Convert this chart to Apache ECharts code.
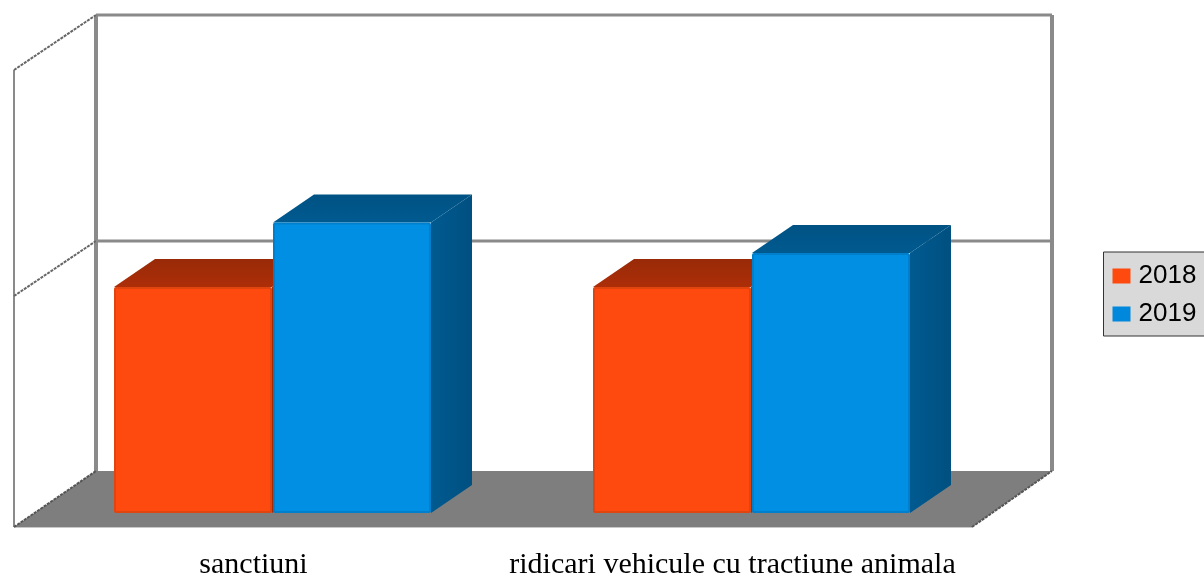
<!DOCTYPE html>
<html>
<head>
<meta charset="utf-8">
<style>html,body{margin:0;padding:0;background:#fff;overflow:hidden}#c{width:1204px;height:575px}</style>
<script src="https://cdn.jsdelivr.net/npm/echarts@6/dist/echarts.min.js"></script>
</head>
<body>
<div id="c"></div>
<script>
const categories = ['sanctiuni', 'ridicari vehicule cu tractiune animala'];
const values2018 = [7, 7];
const values2019 = [9, 8.05];
const yTicks = [0, 7, 14];

const wallDX = 82, wallDXRight = 80, wallDY = 55, floorDY = 56, floorThick = 5;
const barDX = 41, barDY = 28, floorLift = 9;
const barInset = 99, barW = 159;

const chart = echarts.init(document.getElementById('c'), null, {renderer: 'canvas'});

function renderWalls(params, api) {
  const cs = params.coordSys;
  const L = cs.x, R = cs.x + cs.width;
  const y0 = api.coord([0, yTicks[0]])[1];
  const yF = y0 + floorThick;
  const yT = api.coord([0, yTicks[yTicks.length - 1]])[1];
  const grey = '#8a8a8a';
  const ls = (x1, y1, x2, y2, w, dash) => ({
    type: 'line', shape: {x1, y1, x2, y2},
    style: {stroke: grey, lineWidth: w, lineDash: dash || null}
  });
  const kids = [];
  kids.push({type: 'polygon', shape: {points: [[L, yF], [L + wallDX, yF - floorDY], [R + wallDXRight, yF - floorDY], [R, yF]]},
    style: {fill: '#7e7e7e'}});
  kids.push(ls(L + wallDX, yT - wallDY, R + wallDXRight, yT - wallDY, 3));
  kids.push(ls(L + wallDX, yT - wallDY, L + wallDX, yF - floorDY, 4));
  kids.push(ls(R + wallDXRight, yT - wallDY, R + wallDXRight, yF - floorDY, 4));
  kids.push(ls(L, yT, L, yF, 2));
  kids.push({type: 'line', shape: {x1: L, y1: yF + 0.5, x2: R, y2: yF + 0.5}, style: {stroke: '#c8c8c8', lineWidth: 1}});
  yTicks.forEach(t => {
    if (t === yTicks[0]) return;
    const y = api.coord([0, t])[1];
    kids.push({type: 'line', shape: {x1: L, y1: y, x2: L + wallDX, y2: y - wallDY},
      style: {stroke: '#666', lineWidth: 2, lineDash: [3, 1]}});
    if (t !== yTicks[yTicks.length - 1]) {
      kids.push(ls(L + wallDX, y - wallDY, R + wallDXRight, y - wallDY, 3));
    }
  });
  kids.push({type: 'line', shape: {x1: L, y1: yF, x2: L + wallDX, y2: yF - floorDY},
    style: {stroke: '#555', lineWidth: 2, lineDash: [3, 1]}});
  kids.push({type: 'line', shape: {x1: R, y1: yF, x2: R + wallDXRight, y2: yF - floorDY},
    style: {stroke: '#555', lineWidth: 2, lineDash: [3, 1]}});
  return {type: 'group', children: kids};
}

function barRenderer(slot, front, edge, topA, topB, sideA, sideB) {
  return function (params, api) {
    const band = api.size([1, 0])[0];
    const c = api.coord([api.value(0), api.value(1)]);
    const b = api.coord([api.value(0), 0]);
    const x = c[0] - band / 2 + barInset + slot * barW;
    const top = c[1] - floorLift, bot = b[1] - floorLift;
    const w = barW;
    return {type: 'group', children: [
      {type: 'polygon', shape: {points: [[x + w, top], [x + w + barDX, top - barDY], [x + w + barDX, bot - barDY], [x + w, bot]]},
        style: {fill: new echarts.graphic.LinearGradient(0, 0, 1, 0, [{offset: 0, color: sideA}, {offset: 1, color: sideB}])}},
      {type: 'polygon', shape: {points: [[x + 1, top], [x + 1 + barDX, top - barDY], [x + w + barDX, top - barDY], [x + w, top]]},
        style: {fill: new echarts.graphic.LinearGradient(0, 0, 0, 1, [{offset: 0, color: topA}, {offset: 1, color: topB}])}},
      {type: 'rect', shape: {x: x + 1, y: top, width: w - 1, height: bot - top, r: 2},
        style: {fill: edge}},
      {type: 'rect', shape: {x: x + 3, y: top + 2, width: w - 5, height: bot - top - 4, r: 1},
        style: {fill: front}}
    ]};
  };
}

chart.setOption({
  animation: false,
  backgroundColor: '#fff',
  grid: {left: 14, top: 70, width: 958, height: 452, outerBoundsMode: 'none'},
  xAxis: {
    type: 'category', data: categories,
    axisLine: {show: false}, axisTick: {show: false}, splitLine: {show: false},
    axisLabel: {fontFamily: 'Liberation Serif', fontSize: 30, color: '#000', margin: 28, interval: 0}
  },
  yAxis: {type: 'value', min: 0, max: 14, interval: 7, show: false, splitLine: {show: false}},
  legend: {
    orient: 'vertical', left: 1103.5, top: 252,
    backgroundColor: '#d9d9d9', borderColor: '#333', borderWidth: 1, borderRadius: 0,
    padding: [11, 14, 9, 9], itemGap: 12, itemWidth: 18, itemHeight: 15, icon: 'rect',
    textStyle: {fontFamily: 'Liberation Sans', fontSize: 26, color: '#000', padding: [2, 0, 0, 3]},
    data: ['2018', '2019']
  },
  series: [
    {type: 'custom', name: 'walls', silent: true, z: 1, data: [[0, 0]], encode: {x: 0, y: 1}, renderItem: renderWalls, clip: false},
    {type: 'custom', name: '2018', z: 2, itemStyle: {color: '#ff4a0f'},
      data: values2018.map((v, i) => [i, v]), encode: {x: 0, y: 1}, clip: false,
      renderItem: barRenderer(0, '#ff4a0f', '#e0440f', '#982a08', '#ad2e08', '#a02c08', '#a02c08')},
    {type: 'custom', name: '2019', z: 3, itemStyle: {color: '#0088dd'},
      data: values2019.map((v, i) => [i, v]), encode: {x: 0, y: 1}, clip: false,
      renderItem: barRenderer(1, '#008fe3', '#0080cc', '#005283', '#005a90', '#005a90', '#005080')}
  ]
});
</script>
</body>
</html>
